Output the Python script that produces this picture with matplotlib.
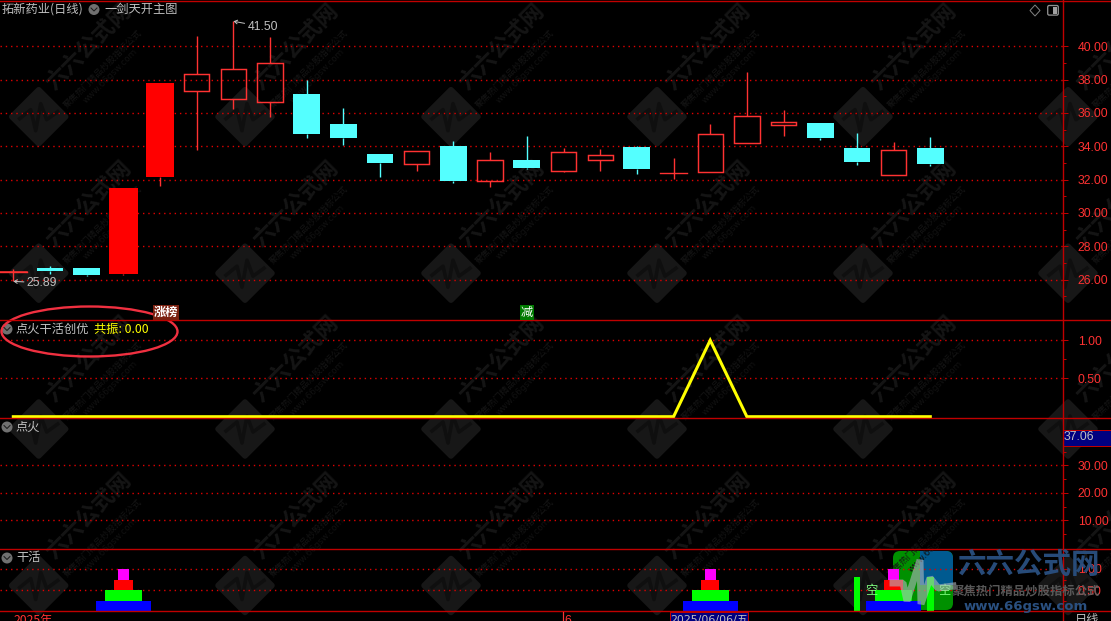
#!/usr/bin/env python
"""Stock terminal screenshot: candles plus three indicator panes."""
import matplotlib; matplotlib.use('agg')
import matplotlib.pyplot as plt
from matplotlib.patches import Ellipse, FancyBboxPatch, Polygon, Rectangle

plt.rcParams['font.family'] = ['Noto Sans CJK SC', 'DejaVu Sans']

# candles, one entry per trading day
opens = [26.47, 26.69, 26.69, 26.33, 32.15, 37.33, 36.85, 36.63, 37.13, 35.33, 33.53, 32.95, 34.01,
         31.93, 33.17, 32.51, 33.19, 33.95, 32.37, 32.47, 34.20, 35.29, 35.39, 33.89, 32.29, 33.89]
highs = [26.61, 26.81, 26.69, 31.49, 37.79, 40.60, 41.50, 40.55, 37.97, 36.29, 33.53, 33.69, 34.31,
         33.65, 34.61, 33.89, 33.83, 34.01, 33.29, 35.33, 38.45, 36.17, 35.39, 34.79, 34.25, 34.55]
lows = [25.89, 26.33, 26.21, 26.27, 31.63, 33.79, 36.25, 35.77, 34.51, 34.07, 32.17, 32.51, 31.81,
        31.55, 32.63, 32.45, 32.51, 32.33, 32.03, 32.47, 34.20, 34.61, 34.37, 32.87, 32.29, 32.81]
closes = [26.47, 26.51, 26.27, 31.49, 37.79, 38.32, 38.62, 38.98, 34.73, 34.49, 32.99, 33.69, 31.91,
          33.15, 32.69, 33.63, 33.45, 32.63, 32.37, 34.72, 35.80, 35.45, 34.49, 33.05, 33.75, 32.93]
filled_up = [3, 4]

price_ticks = [26, 28, 30, 32, 34, 36, 38, 40]
price_minor = [25, 27, 29, 31, 33, 35, 37, 39]

resonance = [0] * 19 + [1, 0] + [0] * 5
res_ticks = [0.5, 1.0]
ignite_ticks = [10, 20, 30]
ignite_minor = [5, 15, 25, 35]
work_ticks = [0.5, 1.0]

stack_days = [3, 19, 24]
stack_tops = [0.25, 0.5, 0.75, 1.0]
stack_widths = [1.5, 1.0, 0.5, 0.3]
stack_colors = ['#0000ff', '#00ff00', '#ff0000', '#ff00ff']
empty_days = [23, 25]
empty_height = 0.8

W, H = 1111, 621
PX = 0.72  # one pixel in points at dpi 100
RED = '#ff3232'
CYAN = '#54ffff'
GRID = '#e00000'
FRAME = '#c00000'
GRAY = '#c0c0c0'
AXIS_X = 1062.7
NUM_FONT = 'Liberation Sans'


def pane(top, bottom, ymin, ymax):
    ax = fig.add_axes([0, 1 - bottom / H, AXIS_X / W, (bottom - top) / H])
    ax.patch.set_alpha(0)
    ax.set_xlim(-13.3 / 36.68, (AXIS_X - 13.3) / 36.68)
    ax.set_ylim(ymin, ymax)
    ax.set_xticks([])
    for s in ['top', 'left', 'bottom', 'right']:
        ax.spines[s].set_visible(False)
    ax.yaxis.tick_right()
    ax.tick_params(axis='y', which='major', labelcolor=RED, labelsize=8.8, length=3.6, width=PX, color=FRAME, pad=7.2)
    ax.tick_params(axis='y', which='minor', length=2.2, width=PX, color=FRAME)
    return ax


def set_ticks(ax, major, minor, labels):
    ax.set_yticks(major)
    ax.set_yticklabels(labels, family=NUM_FONT)
    ax.set_yticks(minor, minor=True)
    for v in major:
        ax.axhline(v, color=GRID, lw=1.0, ls=(0, (1, 2.8)), zorder=1)


fig = plt.figure(figsize=(W / 100, H / 100), dpi=100, facecolor='black')

# watermark layer in screen coordinates, under all the panes
bg = fig.add_axes([0, 0, 1, 1], zorder=0)
bg.set_xlim(0, W)
bg.set_ylim(H, 0)
bg.axis('off')
for cx in [38.7, 245, 451, 657, 863, 1068]:
    for cy in [116.7, 273.2, 429, 585.5]:
        bg.add_patch(Polygon([(cx - 27, cy), (cx, cy - 27), (cx + 27, cy), (cx, cy + 27)], closed=True,
                             fc='#171717', ec='#171717', lw=4, joinstyle='round'))
        bg.plot([cx - 19, cx - 8, cx - 3, cx + 2, cx + 8, cx + 19],
                [cy + 2, cy - 7, cy + 14, cy - 13, cy + 3, cy - 5], color='#0f0f0f', lw=2.6)
        bg.text(cx + 50, cy - 70, '六六公式网', color='#151515', fontsize=16, rotation=45,
                ha='center', va='center', fontweight='bold', rotation_mode='anchor')
        bg.text(cx + 64, cy - 48, '聚焦热门精品炒股指标公式', color='#151515', fontsize=6.4, rotation=45,
                ha='center', va='center', rotation_mode='anchor')
        bg.text(cx + 72, cy - 41, 'www.66gsw.com', color='#111111', fontsize=6.4, rotation=45,
                ha='center', va='center', rotation_mode='anchor', family='DejaVu Sans')

# site logo sits under the marks, its pulse goes on top further down
logo = FancyBboxPatch((899, 557), 48, 47, boxstyle='round,pad=6,rounding_size=7', fc='#009000', ec='none')
bg.add_patch(logo)
logo_blue = Rectangle((920, 551), 33, 34, fc='#005a90', ec='none')
bg.add_patch(logo_blue)
logo_blue.set_clip_path(logo)

# main price pane: 16.66 px per yuan, 26.00 sits at y=279.5
ax1 = pane(1, 320.4, 26 - (320.4 - 279.5) / 16.66, 26 + (279.5 - 1) / 16.66)
set_ticks(ax1, price_ticks, price_minor, ['%.2f' % v for v in price_ticks])
for day, (o, h, l, c) in enumerate(zip(opens, highs, lows, closes)):
    down = c < o
    col = CYAN if down else RED
    top, bot = max(o, c), min(o, c)
    ax1.plot([day, day], [bot, l], color=col, lw=1.0, zorder=3, solid_capstyle='butt')
    ax1.plot([day, day], [top, h], color=col, lw=1.0, zorder=3, solid_capstyle='butt')
    if day in filled_up:
        ax1.bar(day, top - bot, 0.78, bottom=bot, color='#ff0000', zorder=4)
    elif down:
        ax1.bar(day, top - bot, 0.73, bottom=bot, color=CYAN, zorder=4)
    elif top == bot:
        ax1.plot([day - 0.36, day + 0.36], [top, top], color=col, lw=1.0, zorder=4)
    else:
        ax1.bar(day, top - bot, 0.69, bottom=bot, fc='none', ec=col, lw=1.05, zorder=4)
ax1.plot([-0.37, 0.37], [opens[0]] * 2, color=RED, lw=1.1, zorder=4)

for label, day, price, dx, dy in [('41.50', 6, highs[6], 14, -5.4), ('25.89', 0, lows[0], 13.4, -1.5)]:
    ax1.annotate(label, xy=(day, price), xytext=(dx, dy), textcoords='offset pixels', color=GRAY,
                 fontsize=8.8, family=NUM_FONT, va='center', ha='left', zorder=6, annotation_clip=False,
                 arrowprops=dict(arrowstyle='->,head_length=0.25,head_width=0.15', color=GRAY, lw=PX,
                                 shrinkA=0, shrinkB=0))

# resonance pane
ax2 = pane(320.4, 418.2, 0 - (418.2 - 416.7) / 76.4, (416.7 - 320.4) / 76.4)
set_ticks(ax2, res_ticks, [0.75], ['%.2f' % v for v in res_ticks])
ax2.plot(range(len(resonance)), resonance, color='#ffff00', lw=2.2, zorder=5, solid_joinstyle='miter',
         clip_on=False)

# ignition pane, no marks except the grid
ax3 = pane(418.2, 549.3, 10 - (549.3 - 520.3) / 2.75, 10 + (520.3 - 418.2) / 2.75)
set_ticks(ax3, ignite_ticks, ignite_minor, ['%.2f' % v for v in ignite_ticks])

# work pane with stacked pyramids
ax4 = pane(549.3, 611.3, 0, (611.3 - 549.3) / 42.4)
set_ticks(ax4, work_ticks, [0.75, 0.25], ['%.2f' % v for v in work_ticks])
for day in stack_days:
    prev = 0
    for top, wd, col in zip(stack_tops, stack_widths, stack_colors):
        ax4.bar(day, top - prev, wd, bottom=prev, color=col, zorder=3)
        prev = top
for day in empty_days:
    ax4.bar(day, empty_height, 0.18, color='#00ff00', zorder=3)
    ax4.text(day + 0.22, 0.49, '空', color='#80ff80', fontsize=8.8, ha='left', va='center', zorder=4)

# top overlay for frame lines, labels and the screenshot decorations
ov = fig.add_axes([0, 0, 1, 1], zorder=10)
ov.patch.set_alpha(0)
ov.set_xlim(0, W)
ov.set_ylim(H, 0)
ov.axis('off')
for y in [0.7, 320.4, 418.2, 549.3, 611.3]:
    ov.plot([0, W], [y, y], color=FRAME, lw=1.0)
ov.plot([AXIS_X, AXIS_X], [0, H], color=FRAME, lw=1.0)

ov.text(2, 9.5, '拓新药业(日线)', color=GRAY, fontsize=8.8, va='center')
ov.text(104, 9.5, '一剑天开主图', color=GRAY, fontsize=8.8, va='center')
for cx, cy in [(94, 9.5), (7, 329), (7, 427), (7, 558)]:
    ov.add_patch(Ellipse((cx, cy), 11, 11, fc='#707070', ec='none'))
    ov.plot([cx - 3, cx, cx + 3], [cy - 1.5, cy + 1.5, cy - 1.5], color='#1a1a1a', lw=PX)
ov.text(16, 329, '点火干活创优', color=GRAY, fontsize=8.8, va='center')
ov.text(94, 329, '共振: 0.00', color='#ffff00', fontsize=8.8, va='center')
ov.text(16, 427, '点火', color=GRAY, fontsize=8.8, va='center')
ov.text(16, 558, '干活', color=GRAY, fontsize=8.8, va='center')

ov.text(153.5, 312.5, '涨榜', color='white', fontsize=8.8, va='center', fontweight='bold',
        bbox=dict(fc='#7a2010', ec='none', pad=0.4))
ov.text(520.5, 312.5, '减', color='white', fontsize=8.8, va='center',
        bbox=dict(fc='#007a00', ec='none', pad=0.6))

ov.add_patch(Ellipse((89.5, 331.5), 176, 50, angle=0, fc='none', ec='#f03040', lw=1.7))

ov.add_patch(Polygon([(1035, 5), (1040, 10.5), (1035, 16), (1030, 10.5)], closed=True, fc='none', ec='#808080', lw=PX))
ov.add_patch(FancyBboxPatch((1048.5, 6.3), 9, 8, boxstyle='round,pad=0.8,rounding_size=1.5',
                            fc='black', ec='#909090', lw=PX * 1.3))
ov.add_patch(Rectangle((1053.3, 7), 3.7, 7, fc='#a0a0a0', ec='none'))

ov.add_patch(Rectangle((1063.3, 430), 47.7, 16, fc='#000080', ec=FRAME, lw=PX))
ov.text(1064, 437.5, '37.06', color=GRAY, fontsize=8.8, va='center', family=NUM_FONT)

ov.text(14, 620.5, '2025年', color=RED, fontsize=8.8, va='center', clip_on=True)
ov.plot([562.7, 562.7], [612, 621], color=RED, lw=PX * 1.2)
ov.text(564.5, 620.5, '6', color=RED, fontsize=8.8, va='center', family=NUM_FONT, clip_on=True)
ov.add_patch(Rectangle((669.5, 612), 78, 10, fc='#000080', ec=FRAME, lw=PX))
ov.text(670.5, 619.8, '2025/06/06/五', color=GRAY, fontsize=7.9, va='center',
        family=['DejaVu Sans', 'Noto Sans CJK SC'], clip_on=True)
ov.text(1075, 620, '日线', color=GRAY, fontsize=8.8, va='center', clip_on=True)

# logo pulse and the site name stamped over the corner
ov.plot([893, 903, 907, 920, 921, 930, 938, 953], [583, 583, 601, 560, 604, 578, 588, 586],
        color='#b0b8c0', lw=5, alpha=0.6, solid_joinstyle='bevel')
ov.text(1028, 565, '六六公式网', color='#2a5080', fontsize=20.5, fontweight='bold', ha='center', va='center', alpha=0.95)
ov.text(1026, 592, '聚焦热门精品炒股指标公式', color='#606060', fontsize=8.9, ha='center', va='center', fontweight='bold', alpha=0.9)
ov.text(1026, 606.5, 'www.66gsw.com', color='#2a5080', fontsize=9.5, ha='center', va='center', fontweight='bold', family='DejaVu Sans')

fig.savefig('out.png', dpi=100, facecolor='black')
